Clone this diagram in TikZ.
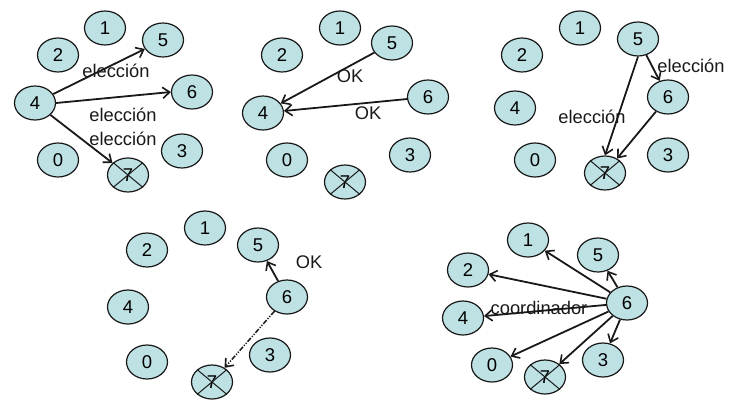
\documentclass[tikz,border=0pt]{standalone}
\usepackage{fontspec}
\setmainfont{Liberation Sans}
\usetikzlibrary{shapes.geometric,arrows.meta}
\definecolor{nodefill}{RGB}{190,225,228}
\definecolor{edgeclr}{RGB}{25,25,25}
\tikzset{
  proc/.style={ellipse,draw=edgeclr,line width=1.2pt,fill=nodefill,minimum width=41pt,minimum height=34pt,inner sep=0pt,font=\fontsize{18.5}{18.5}\selectfont},
  lbl/.style={font=\fontsize{18.3}{18.3}\selectfont,inner sep=0pt,text=edgeclr},
  msg/.style={draw=edgeclr,line width=1.8pt,-{Straight Barb[length=7pt,width=11pt,line width=1.6pt]}},
  xline/.style={draw=edgeclr,line width=1pt},
}
\newcommand{\crossed}[1]{\draw[xline] (#1.north west) -- (#1.south east) (#1.north east) -- (#1.south west);}
\begin{document}
\begin{tikzpicture}[x=1pt,y=-1pt]
\useasboundingbox (0,0) rectangle (730,401);
% ---------- Panel 1 ----------
\node[proc] (a1) at (105,28) {1};
\node[proc] (a5) at (163,40) {5};
\node[proc] (a2) at (58,55) {2};
\node[proc] (a4) at (35,103) {4};
\node[proc] (a6) at (192,92) {6};
\node[proc] (a0) at (58,160) {0};
\node[proc] (a3) at (182,151) {3};
\node[proc] (a7) at (128,175) {7};
\crossed{a7}
\draw[msg] (a4) -- (a5);
\draw[msg] (a4.east) -- (a6.west);
\draw[msg] (a4) -- (a7);
\node[lbl] (ta1) at (116,71) {elección};
\node[lbl] (ta2) at (123,115) {elección};
\node[lbl] (ta3) at (123,139) {elección};
% ---------- Panel 2 ----------
\node[proc] (b1) at (340,28) {1};
\node[proc] (b5) at (392,43) {5};
\node[proc] (b2) at (282,55) {2};
\node[proc] (b4) at (263,113) {4};
\node[proc] (b6) at (428,97) {6};
\node[proc] (b0) at (287,160) {0};
\node[proc] (b3) at (410,155) {3};
\node[proc] (b7) at (345,182) {7};
\crossed{b7}
\draw[msg] (b5) -- (b4);
\draw[msg] (b6) -- (b4);
\node[lbl] (tb1) at (350,76) {OK};
\node[lbl] (tb2) at (368,113) {OK};
% ---------- Panel 3 ----------
\node[proc] (c1) at (580,28) {1};
\node[proc] (c5) at (638,39) {5};
\node[proc] (c2) at (522,55) {2};
\node[proc] (c4) at (515,108) {4};
\node[proc] (c6) at (668,97) {6};
\node[proc] (c0) at (535,160) {0};
\node[proc] (c3) at (668,155) {3};
\node[proc] (c7) at (605,173) {7};
\crossed{c7}
\draw[msg] (c5) -- (c6);
\draw[msg] (c5.south) -- (c7.north);
\draw[msg] (c6) -- (c7);
\node[lbl] (tc1) at (691,66) {elección};
\node[lbl] (tc2) at (592,117) {elección};
% ---------- Panel 4 ----------
\node[proc] (d1) at (205,228) {1};
\node[proc] (d5) at (258,245) {5};
\node[proc] (d2) at (147,250) {2};
\node[proc] (d4) at (128,307) {4};
\node[proc] (d6) at (287,297) {6};
\node[proc] (d0) at (147,362) {0};
\node[proc] (d3) at (270,355) {3};
\node[proc] (d7) at (212,382) {7};
\crossed{d7}
\draw[msg] (d6) -- (d5);
\draw[msg,line width=1.5pt,dash pattern=on 5pt off 1.5pt on 1.2pt off 1.5pt on 1.2pt off 1.5pt] (d6) -- (d7);
\node[lbl] (td1) at (309,262) {OK};
% ---------- Panel 5 ----------
\node[proc] (e1) at (528,240) {1};
\node[proc] (e5) at (598,255) {5};
\node[proc] (e2) at (468,270) {2};
\node[proc] (e4) at (463,318) {4};
\node[proc] (e6) at (627,303) {6};
\node[proc] (e0) at (492,365) {0};
\node[proc] (e3) at (603,360) {3};
\node[proc] (e7) at (545,377) {7};
\crossed{e7}
\draw[msg] (e6) -- (e1);
\draw[msg] (e6) -- (e2);
\draw[msg] (e6) -- (e4);
\draw[msg] (e6) -- (e0);
\draw[msg] (e6) -- (e7);
\draw[msg] (e6) -- (e3);
\draw[msg] (e6) -- (e5);
\node[lbl] (te1) at (539,308) {coordinador};
\end{tikzpicture}
\end{document}
